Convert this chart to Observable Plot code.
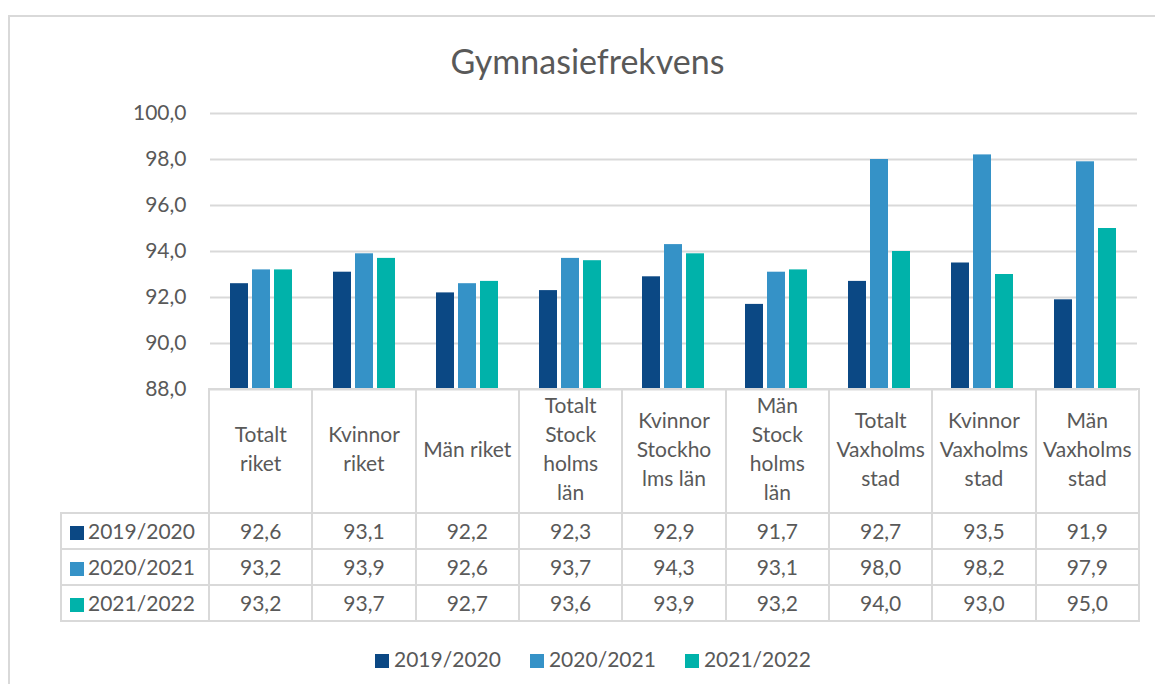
<!DOCTYPE html>
<html>
<head>
<meta charset="utf-8">
<script src="https://cdn.jsdelivr.net/npm/d3@7"></script>
<script src="https://cdn.jsdelivr.net/npm/@observablehq/plot@0.6"></script>
<style>
  html, body { margin: 0; padding: 0; background: #fff; }
  #wrap { position: relative; width: 1155px; height: 684px; overflow: hidden; font-family: Lato, "Open Sans", sans-serif; color: #595959; }
  #frame { position: absolute; left: 8px; top: 15px; width: 1200px; height: 800px; border: 2px solid #d9d9d9; box-sizing: border-box; }
  #title { position: absolute; left: 0; width: 1175px; top: 40px; text-align: center; font-size: 34px; line-height: 42px; }
  #chart { position: absolute; left: 0; top: 0; }
  #tbl { position: absolute; left: 60px; top: 388px; border-collapse: collapse; table-layout: fixed; font-size: 21px; }
  #tbl td { border: 2px solid #d9d9d9; padding: 0; text-align: center; vertical-align: middle; white-space: pre-line; line-height: 29px; overflow: hidden; }
  #tbl td.corner { border-top: none; border-left: none; }
  #tbl tr.head td { height: 121px; padding-bottom: 6px; box-sizing: border-box; }
  #tbl tr.row td { height: 34px; line-height: 34px; }
  #tbl td.lab { text-align: left; white-space: nowrap; }
  .key { display: inline-block; width: 14px; height: 14px; vertical-align: -1px; }
  #tbl td.lab .key { margin-left: 8px; margin-right: 4px; }
  #legend { position: absolute; left: 375px; top: 644px; display: flex; font-size: 21px; line-height: 30px; white-space: nowrap; }
  #legend .item { margin-right: 29px; }
  #legend .key { margin-right: 5px; }
</style>
</head>
<body>
<div id="wrap">
  <div id="frame"></div>
  <div id="title">Gymnasiefrekvens</div>
  <div id="chart"></div>
  <table id="tbl"></table>
  <div id="legend"></div>
</div>
<script>
const title = "Gymnasiefrekvens";
const categories = ["Totalt riket", "Kvinnor riket", "Män riket", "Totalt Stockholms län", "Kvinnor Stockholms län", "Män Stockholms län", "Totalt Vaxholms stad", "Kvinnor Vaxholms stad", "Män Vaxholms stad"];
const categoryLines = ["Totalt\nriket", "Kvinnor\nriket", "Män riket", "Totalt\nStock\nholms\nlän", "Kvinnor\nStockho\nlms län", "Män\nStock\nholms\nlän", "Totalt\nVaxholms\nstad", "Kvinnor\nVaxholms\nstad", "Män\nVaxholms\nstad"];
const series = ["2019/2020", "2020/2021", "2021/2022"];
const values2019 = [92.6, 93.1, 92.2, 92.3, 92.9, 91.7, 92.7, 93.5, 91.9];
const values2020 = [93.2, 93.9, 92.6, 93.7, 94.3, 93.1, 98.0, 98.2, 97.9];
const values2021 = [93.2, 93.7, 92.7, 93.6, 93.9, 93.2, 94.0, 93.0, 95.0];
const colors = ["#0B4884", "#3592C7", "#00B2AA"];
const yTicks = [88, 90, 92, 94, 96, 98, 100];

const seriesValues = [values2019, values2020, values2021];
const fmt = d => d.toFixed(1).replace(".", ",");
const data = [];
series.forEach((s, si) => categories.forEach((c, ci) => data.push({category: c, series: s, value: seriesValues[si][ci]})));

document.getElementById("title").textContent = title;

const chart = Plot.plot({
  width: 1155,
  height: 684,
  marginLeft: 208,
  marginRight: 17,
  marginTop: 113,
  marginBottom: 295,
  style: {fontFamily: "Lato, 'Open Sans', sans-serif", fontSize: "21px", color: "#595959", background: "transparent"},
  fx: {domain: categories, padding: 0, axis: null},
  x: {domain: series, paddingInner: 0.174, paddingOuter: 0.833, axis: null},
  y: {domain: [88, 100], axis: null},
  color: {domain: series, range: colors},
  marks: [
    Plot.ruleY(yTicks, {stroke: "#d9d9d9", strokeWidth: 2}),
    Plot.barY(data, {fx: "category", x: "series", y1: 88, y2: "value", fill: "series"}),
    Plot.axisY({ticks: yTicks, tickFormat: fmt, tickSize: 0, tickPadding: 24, fontSize: 21, fill: "#595959", anchor: "left", label: null})
  ]
});
document.getElementById("chart").appendChild(chart);

// data table
const tbl = document.getElementById("tbl");
const colW = (1155 - 17 - 208) / categories.length;
let html = `<colgroup><col style="width:148px">${categories.map(() => `<col style="width:${colW}px">`).join("")}</colgroup>`;
html += `<tr class="head"><td class="corner"></td>${categoryLines.map(l => `<td>${l}</td>`).join("")}</tr>`;
series.forEach((s, si) => {
  html += `<tr class="row"><td class="lab"><span class="key" style="background:${colors[si]}"></span>${s}</td>${seriesValues[si].map(v => `<td>${fmt(v)}</td>`).join("")}</tr>`;
});
tbl.innerHTML = html;
tbl.style.width = (148 + colW * categories.length) + "px";

// legend
document.getElementById("legend").innerHTML = series.map((s, i) =>
  `<div class="item"><span class="key" style="background:${colors[i]}"></span>${s}</div>`).join("");
</script>
</body>
</html>
